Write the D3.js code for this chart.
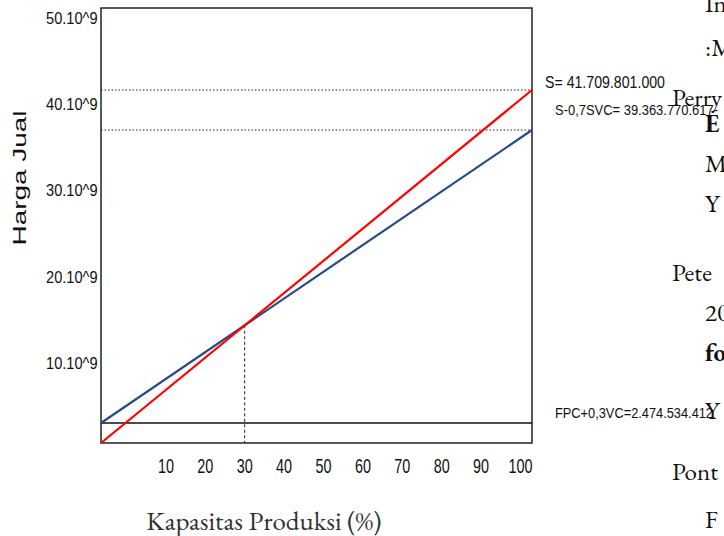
<!DOCTYPE html>
<html><head><meta charset="utf-8">
<script src="https://cdn.jsdelivr.net/npm/d3@7"></script>
<style>body{margin:0;background:#fff}svg{display:block}</style>
</head><body>
<svg id="chart" width="724" height="536"></svg>
<script>
// ---------- data ----------
const capacityTicks = [10, 20, 30, 40, 50, 60, 70, 80, 90, 100];
const priceTicks = [10e9, 20e9, 30e9, 40e9, 50e9];
const priceTickLabels = ["10.10^9", "20.10^9", "30.10^9", "40.10^9", "50.10^9"];
const capacityPoints = [0, 100];
const salesValues = [0, 41709801000];             // S (red)
const costValues = [2474534412, 39363770617];     // FPC+0,3VC -> S-0,7SVC (blue)
const refLevels = [41709801000, 39363770617, 2474534412];
const refLabels = ["S= 41.709.801.000", "S-0,7SVC= 39.363.770.617-", "FPC+0,3VC=2.474.534.412"];
const docLines = ["In", ":M", "Perry", "E", "M", "Y", "Pete", "20", "fo", "Y", "Pont", "F"];
const docBold = [false, false, false, true, false, false, false, false, true, false, false, false];

// ---------- layout ----------
const L = 101, R = 532, T = 8, B = 443;
const svg = d3.select("#chart");
const sans = "'Liberation Sans',Arial,sans-serif";
const serif = "'EB Garamond',Garamond,'Liberation Serif','Times New Roman',serif";

const x = d3.scaleLinear().domain([0, 100]).range([L, R]);
const xLabelScale = d3.scaleLinear().domain([0, 100]).range([126, 520]);
const y = d3.scaleLinear()
  .domain([0, costValues[0], costValues[1], salesValues[1], 50e9])
  .range([B, 423, 130, 90, 8]);
const yLabelScale = d3.scaleLinear().domain([0, 50e9]).range([449, 18]);

// background document text (right side)
const docX = [705, 705, 672, 705, 705, 705, 672, 705, 705, 705, 672, 705];
const docY = [12, 56, 106, 132, 172, 212, 281, 321, 361, 419, 480, 528];
svg.append("g").selectAll("text").data(docLines).join("text")
  .attr("x", (d, i) => docX[i]).attr("y", (d, i) => docY[i])
  .attr("font-family", serif).attr("font-size", 25)
  .attr("font-weight", (d, i) => docBold[i] ? "bold" : "normal")
  .attr("fill", "#111").text(d => d);

// frame
svg.append("rect").attr("x", L).attr("y", T).attr("width", R - L).attr("height", B - T)
  .attr("fill", "none").attr("stroke", "#222").attr("stroke-width", 1.5);

// dotted reference lines (S and S-0,7SVC)
svg.append("g").selectAll("line").data(refLevels.slice(0, 2)).join("line")
  .attr("x1", L).attr("x2", R).attr("y1", d => y(d)).attr("y2", d => y(d))
  .attr("stroke", "#222").attr("stroke-width", 1).attr("stroke-dasharray", "1.5,2");

// FPC solid line
svg.append("line").attr("x1", L).attr("x2", R)
  .attr("y1", y(refLevels[2])).attr("y2", y(refLevels[2]))
  .attr("stroke", "#111").attr("stroke-width", 1.6);

// lines
const line = d3.line().x(d => x(d[0])).y(d => y(d[1]));
const blue = capacityPoints.map((c, i) => [c, costValues[i]]);
const red = capacityPoints.map((c, i) => [c, salesValues[i]]);

// intersection (screen space)
const p1 = [x(0), y(red[0][1])], p2 = [x(100), y(red[1][1])];
const q1 = [x(0), y(blue[0][1])], q2 = [x(100), y(blue[1][1])];
const sr = (p2[1] - p1[1]) / (p2[0] - p1[0]), sb = (q2[1] - q1[1]) / (q2[0] - q1[0]);
const ix = p1[0] + (q1[1] - p1[1]) / (sr - sb);
const iy = p1[1] + sr * (ix - p1[0]);
svg.append("line").attr("x1", ix).attr("x2", ix).attr("y1", iy).attr("y2", B)
  .attr("stroke", "#222").attr("stroke-width", 1).attr("stroke-dasharray", "3,2.5");

svg.append("path").attr("d", line(blue)).attr("fill", "none")
  .attr("stroke", "#264b86").attr("stroke-width", 2.2);
svg.append("path").attr("d", line(red)).attr("fill", "none")
  .attr("stroke", "#ff0000").attr("stroke-width", 2.2);

// y axis labels
const yAxis = d3.axisLeft(yLabelScale).tickValues(priceTicks)
  .tickFormat((d, i) => priceTickLabels[i]).tickSize(0).tickPadding(4);
const gy = svg.append("g").attr("transform", `translate(${L},0)`).call(yAxis);
gy.select(".domain").remove();
gy.selectAll("text").attr("font-family", sans).attr("font-size", 17)
  .attr("fill", "#111").attr("transform", "scale(0.86,1)");

// x axis labels
const xAxis = d3.axisBottom(xLabelScale).tickValues(capacityTicks).tickSize(0).tickPadding(0);
const gx = svg.append("g").attr("transform", `translate(0,459)`).call(xAxis);
gx.select(".domain").remove();
gx.selectAll("text").attr("font-family", sans).attr("font-size", 20)
  .attr("fill", "#111").attr("transform", "scale(0.72,1)");

// right-hand value labels
const labelX = [545, 555, 555];
const labelDy = [-2, -15, -5];
const labelSize = [17, 15.5, 15.5];
const labelWidth = [120, 163, 158];
svg.append("g").selectAll("text").data(refLabels).join("text")
  .attr("x", (d, i) => labelX[i]).attr("y", (d, i) => y(refLevels[i]) + labelDy[i])
  .attr("font-family", sans).attr("font-size", (d, i) => labelSize[i])
  .attr("textLength", (d, i) => labelWidth[i]).attr("lengthAdjust", "spacingAndGlyphs")
  .attr("fill", "#111").text(d => d);

// axis titles
svg.append("text").attr("transform", "translate(26,178) rotate(-90)")
  .attr("text-anchor", "middle").attr("font-family", sans)
  .attr("font-size", 19).attr("textLength", 135).attr("lengthAdjust", "spacingAndGlyphs")
  .attr("fill", "#111").text("Harga Jual");
svg.append("text").attr("x", 264).attr("y", 530).attr("text-anchor", "middle")
  .attr("font-family", serif).attr("font-size", 27).attr("fill", "#333")
  .text("Kapasitas Produksi (%)");
</script>
</body></html>
